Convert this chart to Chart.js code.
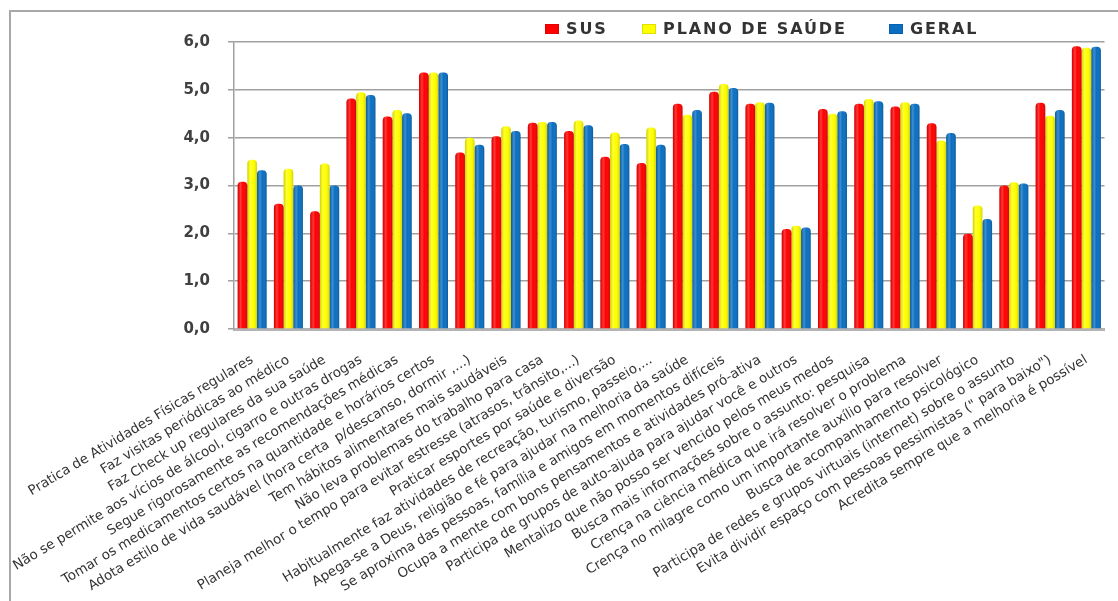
<!DOCTYPE html>
<html lang="pt-BR">
<head>
<meta charset="utf-8">
<title>Estratégias de cuidado com a saúde – SUS x Plano de Saúde</title>
<script src="https://cdn.jsdelivr.net/npm/chart.js@4/dist/chart.umd.min.js"></script>
<style>
  html, body { margin: 0; padding: 0; background: #ffffff; }
  #wrap { position: relative; width: 1118px; height: 601px; overflow: hidden; }
  #frame {
    position: absolute; left: 9px; top: 10px; width: 1200px; height: 700px;
    border-left: 2px solid #a8a8a8; border-top: 2px solid #a8a8a8;
  }
  #chart { position: absolute; left: 0; top: 0; }
  #legend { position: absolute; left: 0; top: 0; width: 1118px; height: 40px; }
  .lg-item {
    position: absolute; top: 19px; display: flex; align-items: center;
    font-family: "DejaVu Sans", sans-serif; font-weight: bold; font-size: 16px;
    letter-spacing: 1.9px; color: #333333; white-space: nowrap;
  }
  .lg-box { width: 14px; height: 10px; margin-right: 7px; box-shadow: inset 0 0 0 1px rgba(0,0,0,0.12); }
</style>
</head>
<body>
<div id="wrap">
  <div id="frame"></div>
  <canvas id="chart" width="1118" height="601"></canvas>
  <div id="legend"></div>
</div>
<script>
// Itens avaliados (eixo das categorias)
const categories = [
  "Pratica de Atividades Físicas regulares",
  "Faz visitas periódicas ao médico",
  "Faz Check up regulares da sua saúde",
  "Não se permite aos vícios de álcool, cigarro e outras drogas",
  "Segue rigorosamente as recomendações médicas",
  "Tomar os medicamentos certos na quantidade e horários certos",
  "Adota estilo de vida saudável (hora certa  p/descanso, dormir ,...)",
  "Tem hábitos alimentares mais saudáveis",
  "Não leva problemas do trabalho para casa",
  "Planeja melhor o tempo para evitar estresse (atrasos, trânsito,...)",
  "Praticar esportes por saúde e diversão",
  "Habitualmente faz atividades de recreação, turismo, passeio,...",
  "Apega-se a Deus, religião e fé para ajudar na melhoria da saúde",
  "Se aproxima das pessoas, família e amigos em momentos difíceis",
  "Ocupa a mente com bons pensamentos e atividades pró-ativa",
  "Participa de grupos de auto-ajuda para ajudar você e outros",
  "Mentalizo que não posso ser vencido pelos meus medos",
  "Busca mais informações sobre o assunto: pesquisa",
  "Crença na ciência médica que irá resolver o problema",
  "Crença no milagre como um importante auxílio para resolver",
  "Busca de acompanhamento psicológico",
  "Participa de redes e grupos virtuais (internet) sobre o assunto",
  "Evita dividir espaço com pessoas pessimistas (\" para baixo\")",
  "Acredita sempre que a melhoria é possível"
];

// Médias por grupo
const sus   = [3.08, 2.62, 2.46, 4.82, 4.44, 5.36, 3.69, 4.03, 4.31, 4.14, 3.60, 3.47,
               4.71, 4.96, 4.71, 2.09, 4.60, 4.71, 4.65, 4.30, 1.99, 3.00, 4.73, 5.91];
const plano = [3.54, 3.35, 3.46, 4.95, 4.58, 5.36, 4.00, 4.24, 4.33, 4.36, 4.11, 4.21,
               4.48, 5.12, 4.74, 2.16, 4.50, 4.81, 4.74, 3.94, 2.58, 3.07, 4.46, 5.88];
const geral = [3.32, 3.00, 3.00, 4.89, 4.51, 5.36, 3.85, 4.14, 4.33, 4.26, 3.87, 3.85,
               4.58, 5.04, 4.73, 2.12, 4.55, 4.76, 4.71, 4.10, 2.30, 3.04, 4.58, 5.90];

const seriesNames = ["SUS", "PLANO DE SAÚDE", "GERAL"];
const seriesColors = ["#ff0000", "#ffff00", "#0a6fc2"];
const yTicks = [0, 1, 2, 3, 4, 5, 6];

// Legenda em HTML, no topo à direita
const legendPos = [545, 642, 889];
const legendEl = document.getElementById("legend");
seriesNames.forEach((name, i) => {
  const item = document.createElement("div");
  item.className = "lg-item";
  item.style.left = legendPos[i] + "px";
  const box = document.createElement("span");
  box.className = "lg-box";
  box.style.background = seriesColors[i];
  const txt = document.createElement("span");
  txt.textContent = name;
  item.appendChild(box);
  item.appendChild(txt);
  legendEl.appendChild(item);
});

// Sombreamento cilíndrico sobre cada barra
const cylinderShade = {
  id: "cylinderShade",
  afterDatasetsDraw(chart) {
    const ctx = chart.ctx;
    chart.data.datasets.forEach((ds, di) => {
      const meta = chart.getDatasetMeta(di);
      meta.data.forEach(el => {
        const p = el.getProps(["x", "y", "base", "width"], true);
        const left = p.x - p.width / 2;
        const g = ctx.createLinearGradient(left, 0, left + p.width, 0);
        g.addColorStop(0, "rgba(0,0,0,0.16)");
        g.addColorStop(0.3, "rgba(255,255,255,0.22)");
        g.addColorStop(0.55, "rgba(255,255,255,0)");
        g.addColorStop(1, "rgba(0,0,0,0.18)");
        ctx.save();
        ctx.beginPath();
        const r = Math.min(4, p.width / 2);
        ctx.roundRect(left, p.y, p.width, p.base - p.y, [r, r, 0, 0]);
        ctx.fillStyle = g;
        ctx.fill();
        ctx.restore();
      });
    });
  }
};

new Chart(document.getElementById("chart"), {
  type: "bar",
  data: {
    labels: categories,
    datasets: [
      { label: seriesNames[0], data: sus,   backgroundColor: seriesColors[0] },
      { label: seriesNames[1], data: plano, backgroundColor: seriesColors[1] },
      { label: seriesNames[2], data: geral, backgroundColor: seriesColors[2] }
    ]
  },
  options: {
    responsive: false,
    animation: false,
    devicePixelRatio: 1,
    layout: { padding: { top: 42, right: 13, left: 0, bottom: 0 } },
    datasets: {
      bar: {
        categoryPercentage: 0.8,
        barPercentage: 1.0,
        borderRadius: { topLeft: 4, topRight: 4, bottomLeft: 0, bottomRight: 0 },
        borderSkipped: "bottom"
      }
    },
    plugins: {
      legend: { display: false },
      tooltip: { enabled: false }
    },
    scales: {
      x: {
        grid: { display: false, drawTicks: false },
        border: { display: true, color: "#b4b4b4", width: 3 },
        ticks: {
          autoSkip: false,
          minRotation: 31,
          maxRotation: 31,
          padding: 23,
          color: "#333333",
          font: { family: "'DejaVu Sans', sans-serif", size: 13.5 }
        },
        afterFit(scale) { scale.height = 601 - 329; }
      },
      y: {
        min: 0,
        max: 6,
        afterBuildTicks(scale) { scale.ticks = yTicks.map(v => ({ value: v })); },
        grid: { color: "#a0a0a0", lineWidth: 1.5, drawTicks: true, tickLength: 6 },
        border: { display: true, color: "#a0a0a0", width: 1.5 },
        ticks: {
          padding: 18,
          color: "#404040",
          font: { family: "'DejaVu Sans', sans-serif", size: 15, weight: "bold" },
          callback: v => Number(v).toFixed(1).replace(".", ",")
        },
        afterFit(scale) { scale.width = 234; }
      }
    }
  },
  plugins: [cylinderShade]
});
</script>
</body>
</html>
